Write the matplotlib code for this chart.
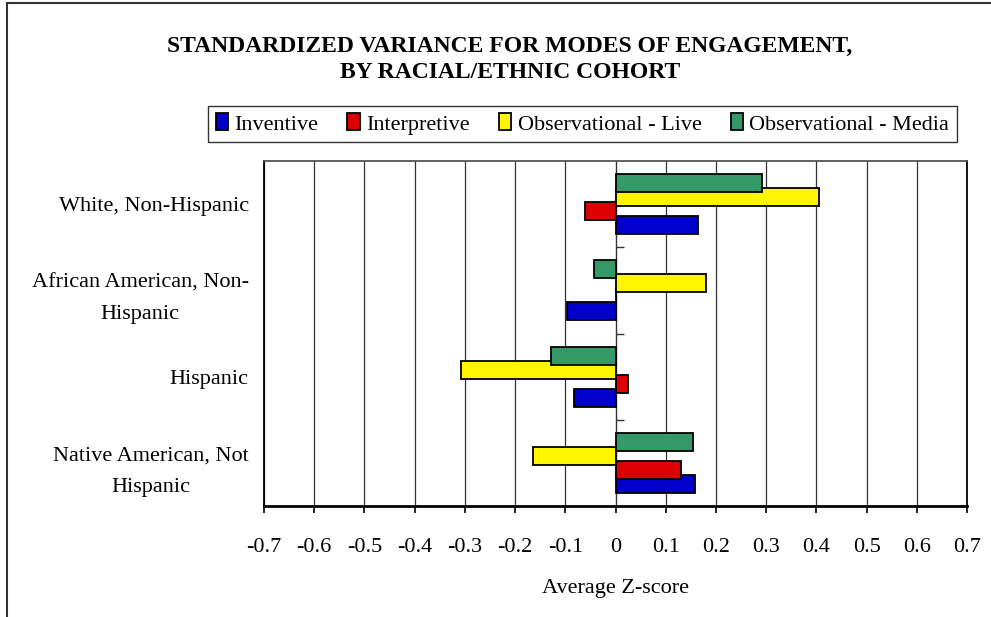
import matplotlib
matplotlib.use("Agg")
import matplotlib.pyplot as plt
from matplotlib.patches import Rectangle
import numpy as np

plt.rcParams['font.family'] = ['Liberation Serif', 'DejaVu Serif']

categories = ["White, Non-Hispanic", "African American, Non-\nHispanic", "Hispanic",
              "Native American, Not\nHispanic"]
series_names = ["Inventive", "Interpretive", "Observational - Live", "Observational - Media"]
inventive = [0.165, -0.097, -0.083, 0.158]
interpretive = [-0.061, 0.0, 0.025, 0.130]
obs_live = [0.405, 0.180, -0.308, -0.164]
obs_media = [0.292, -0.043, -0.128, 0.155]
xticks = [-0.7, -0.6, -0.5, -0.4, -0.3, -0.2, -0.1, 0, 0.1, 0.2, 0.3, 0.4, 0.5, 0.6, 0.7]
xtick_labels = ["-0.7", "-0.6", "-0.5", "-0.4", "-0.3", "-0.2", "-0.1", "0", "0.1", "0.2",
                "0.3", "0.4", "0.5", "0.6", "0.7"]

colors = ["#0000CC", "#DD0000", "#FFF500", "#339966"]
series = [inventive, interpretive, obs_live, obs_media]

W, H = 991, 617
fig = plt.figure(figsize=(W / 100, H / 100), dpi=100)

# outer chart frame
fig.patches.append(Rectangle((7 / W, -0.1), 1.2, 1 - 3 / H + 0.1, transform=fig.transFigure,
                             fill=False, edgecolor="#333333", linewidth=1.5))

ax = fig.add_axes([264 / W, 1 - 506 / H, (967 - 264) / W, (506 - 161) / H])

y = np.arange(len(categories))
bar_h = 0.21
step = 0.162
offsets = [1.5 * step, 0.5 * step, -0.5 * step, -1.5 * step]
handles = []
for vals, col, off, name in zip(series, colors, offsets, series_names):
    b = ax.barh(y + off, vals, height=bar_h, color=col, edgecolor="black", linewidth=1.3,
                label=name, zorder=3)
    handles.append(b)

ax.set_ylim(3.5, -0.5)
ax.set_xlim(-0.7, 0.7)
ax.set_xticks(xticks)
ax.set_xticklabels(xtick_labels, fontsize=16)
ax.set_yticks(y)
ax.set_yticklabels(categories, fontsize=16, ha="right", multialignment="center",
                   linespacing=1.9)
ax.tick_params(axis="y", length=0, pad=11)
ax.tick_params(axis="x", direction="out", length=5, width=1.2, pad=18, color="black")
ax.grid(axis="x", color="#333333", linewidth=0.9, zorder=0)
for s in ["left", "right", "top"]:
    ax.spines[s].set_linewidth(1.3)
    ax.spines[s].set_color("black")
ax.spines["bottom"].set_linewidth(2)
ax.spines["top"].set_color("#555555")

# category separator ticks on the zero axis
sec = ax.secondary_yaxis(0.5)
sec.set_yticks([0.5, 1.5, 2.5])
sec.set_yticklabels([])
sec.spines["left"].set_visible(False)
sec.tick_params(axis="y", length=6, width=1, direction="out", color="#333333")

ax.set_xlabel("Average Z-score", fontsize=16, labelpad=16)

fig.text(510 / W, 1 - 46 / H, "STANDARDIZED VARIANCE FOR MODES OF ENGAGEMENT,",
         ha="center", va="center", fontsize=17, fontweight="bold")
fig.text(510 / W, 1 - 73 / H, "BY RACIAL/ETHNIC COHORT",
         ha="center", va="center", fontsize=17, fontweight="bold")

leg = fig.legend(handles=handles, labels=series_names, loc="center", ncol=4,
                 bbox_to_anchor=((208 + 957) / 2 / W, 1 - 124 / H),
                 bbox_transform=fig.transFigure, fontsize=16, frameon=True,
                 fancybox=False, edgecolor="black", handlelength=0.55, handleheight=0.8,
                 handletextpad=0.3, columnspacing=1.3, borderpad=0.35)
leg.get_frame().set_linewidth(1.0)

fig.savefig("out.png", dpi=100)
